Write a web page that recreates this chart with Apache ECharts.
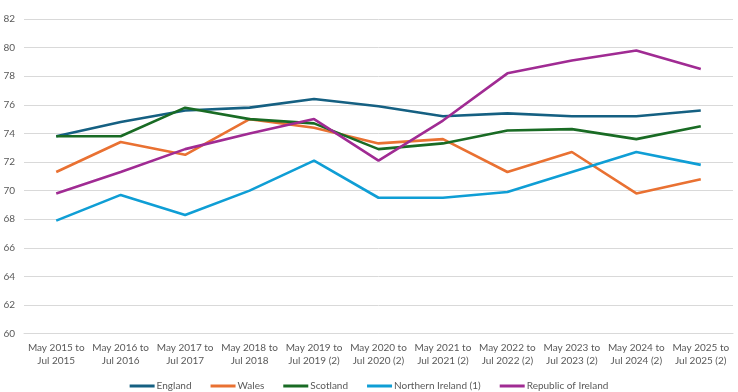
<!DOCTYPE html>
<html><head><meta charset="utf-8">
<script src="https://cdn.jsdelivr.net/npm/echarts@6/dist/echarts.min.js"></script>
<style>html,body{margin:0;padding:0;background:#fff}#c{width:738px;height:392px}</style>
</head><body><div id="c"></div>
<script>
const categories = ["May 2015 to\nJul 2015","May 2016 to\nJul 2016","May 2017 to\nJul 2017","May 2018 to\nJul 2018","May 2019 to\nJul 2019 (2)","May 2020 to\nJul 2020 (2)","May 2021 to\nJul 2021 (2)","May 2022 to\nJul 2022 (2)","May 2023 to\nJul 2023 (2)","May 2024 to\nJul 2024 (2)","May 2025 to\nJul 2025 (2)"];
const england = [73.8,74.8,75.6,75.8,76.4,75.9,75.2,75.4,75.2,75.2,75.6];
const wales = [71.3,73.4,72.5,75.0,74.4,73.3,73.6,71.3,72.7,69.8,70.8];
const scotland = [73.8,73.8,75.8,75.0,74.7,72.9,73.3,74.2,74.3,73.6,74.5];
const northernIreland = [67.9,69.7,68.3,70.0,72.1,69.5,69.5,69.9,71.3,72.7,71.8];
const republicOfIreland = [69.8,71.3,72.9,74.0,75.0,72.1,74.9,78.2,79.1,79.8,78.5];
const seriesNames = ["England","Wales","Scotland","Northern Ireland (1)","Republic of Ireland"];
const colors = ["#156082","#E97132","#196B24","#0F9ED5","#A02B93"];
const yMin = 60, yMax = 82, yStep = 2;

const allData = [england, wales, scotland, northernIreland, republicOfIreland];
const chart = echarts.init(document.getElementById('c'), null, {renderer:'canvas'});
chart.setOption({
  animation:false,
  color: colors,
  textStyle:{fontFamily:'Lato'},
  grid:{left:24, right:5, top:19, bottom:58.4},
  xAxis:{
    type:'category', data:categories, boundaryGap:true,
    axisLine:{show:true, lineStyle:{color:'#d9d9d9', width:1}},
    axisTick:{show:false},
    axisLabel:{color:'#595959', fontSize:10, lineHeight:13, margin:8, interval:0, fontFamily:'Lato'}
  },
  yAxis:{
    type:'value', min:yMin, max:yMax, interval:yStep,
    axisLine:{show:false}, axisTick:{show:false},
    axisLabel:{color:'#595959', fontSize:10, margin:9, fontFamily:'Lato'},
    splitLine:{lineStyle:{color:'#d9d9d9', width:1}}
  },
  legend:{
    top:376, left:'center', itemGap:19, itemWidth:25, itemHeight:3, icon:'rect',
    textStyle:{color:'#595959', fontSize:10, fontFamily:'Lato', padding:[0,0,0,-3]},
    data: seriesNames
  },
  series: seriesNames.map((n,i)=>({
    name:n, type:'line', data:allData[i], symbol:'none', smooth:false,
    lineStyle:{width:2.6, color:colors[i]}, itemStyle:{color:colors[i]}
  }))
});
</script></body></html>
